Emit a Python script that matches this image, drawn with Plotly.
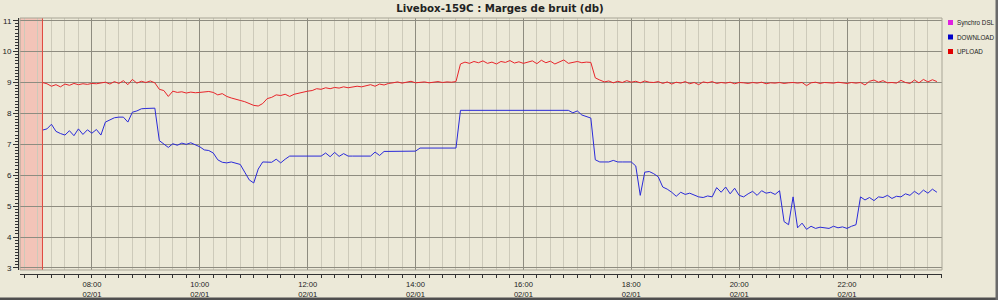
import pandas as pd
import plotly.graph_objects as go

# ---------------- data ----------------
title_text = "Livebox-159C : Marges de bruit (db)"
series_names = ["Synchro DSL", "DOWNLOAD", "UPLOAD"]
series_colors = ["#E020E0", "#0000C8", "#E00000"]

start_time = "2009-01-02 07:05"   # first sample
sample_minutes = 5
view_start = "2009-01-02 06:40"
view_end = "2009-01-02 23:45:40"

upload = [
    9.00, 8.96, 8.88, 8.93, 8.86, 8.95, 8.91, 8.97, 8.93, 8.96, 8.94, 8.97,  # 07
    8.96, 8.99, 9.01, 8.95, 9.03, 8.97, 9.06, 8.93, 9.10, 8.98, 9.04, 9.00,  # 08
    9.05, 8.99, 8.78, 8.74, 8.55, 8.72, 8.68, 8.70, 8.66, 8.69, 8.67, 8.68,  # 09
    8.70, 8.71, 8.68, 8.60, 8.64, 8.55, 8.50, 8.47, 8.42, 8.38, 8.32, 8.26,  # 10
    8.24, 8.32, 8.48, 8.52, 8.60, 8.58, 8.62, 8.55, 8.62, 8.66, 8.70, 8.72,  # 11
    8.74, 8.80, 8.78, 8.83, 8.80, 8.84, 8.82, 8.86, 8.83, 8.85, 8.88, 8.86,  # 12
    8.90, 8.93, 8.88, 8.95, 8.92, 8.97, 8.99, 9.02, 8.98, 9.00, 9.04, 8.99,  # 13
    9.00, 9.02, 8.99, 9.01, 9.03, 9.00, 9.02, 9.01, 9.03, 9.60, 9.66, 9.62,  # 14
    9.68, 9.64, 9.70, 9.62, 9.66, 9.60, 9.68, 9.65, 9.71, 9.63, 9.67, 9.62,  # 15
    9.66, 9.70, 9.61, 9.72, 9.64, 9.69, 9.60, 9.67, 9.73, 9.62, 9.66, 9.68,  # 16
    9.64, 9.66, 9.65, 9.15, 9.08, 9.02, 9.05, 8.99, 9.04, 9.00, 9.06, 9.01,  # 17
    9.04, 8.99, 9.05, 9.01, 9.00, 9.03, 8.97, 9.02, 8.95, 9.01, 8.98, 9.03,  # 18
    8.96, 9.00, 8.93, 9.02, 8.99, 9.03, 8.97, 9.00, 8.98, 9.01, 8.96, 9.00,  # 19
    8.99, 8.97, 9.00, 8.98, 9.01, 8.96, 8.99, 8.98, 9.00, 8.97, 8.99, 9.00,  # 20
    8.98, 9.00, 8.90, 8.99, 9.01, 8.97, 9.00, 8.99, 8.98, 9.01, 8.99, 8.97,  # 21
    9.00, 8.98, 9.00, 8.92, 9.04, 9.08, 9.01, 9.06, 8.99, 9.00, 8.98, 9.07,  # 22
    9.00, 8.97, 9.08, 8.99, 9.10, 9.02, 9.09, 9.03,                          # 23
]

download = [
    7.46, 7.50, 7.65, 7.42, 7.35, 7.30, 7.44, 7.28, 7.50, 7.32, 7.47, 7.36,  # 07
    7.48, 7.30, 7.72, 7.80, 7.86, 7.88, 7.88, 7.72, 8.04, 8.08, 8.15, 8.16,  # 08
    8.16, 8.17, 7.12, 7.00, 6.90, 7.02, 6.97, 7.04, 7.00, 7.05, 6.98, 6.92,  # 09
    6.82, 6.80, 6.72, 6.50, 6.42, 6.40, 6.43, 6.38, 6.35, 6.10, 5.85, 5.75,  # 10
    6.20, 6.43, 6.43, 6.42, 6.52, 6.40, 6.52, 6.62, 6.62, 6.62, 6.62, 6.62,  # 11
    6.62, 6.62, 6.62, 6.72, 6.60, 6.74, 6.61, 6.70, 6.62, 6.62, 6.62, 6.62,  # 12
    6.62, 6.62, 6.75, 6.64, 6.77, 6.77, 6.77, 6.77, 6.77, 6.77, 6.77, 6.78,  # 13
    6.88, 6.88, 6.88, 6.88, 6.88, 6.88, 6.88, 6.88, 6.88, 8.10, 8.10, 8.10,  # 14
    8.10, 8.10, 8.10, 8.10, 8.10, 8.10, 8.10, 8.10, 8.10, 8.10, 8.10, 8.10,  # 15
    8.10, 8.10, 8.10, 8.10, 8.10, 8.10, 8.10, 8.10, 8.10, 8.10, 8.02, 8.08,  # 16
    7.95, 7.90, 7.85, 6.50, 6.43, 6.43, 6.43, 6.48, 6.43, 6.43, 6.43, 6.43,  # 17
    6.30, 5.35, 6.10, 6.12, 6.05, 5.95, 5.62, 5.55, 5.45, 5.32, 5.45, 5.38,  # 18
    5.42, 5.36, 5.30, 5.28, 5.33, 5.30, 5.60, 5.45, 5.62, 5.40, 5.58, 5.35,  # 19
    5.30, 5.40, 5.48, 5.35, 5.50, 5.42, 5.45, 5.38, 5.50, 4.50, 4.40, 5.30,  # 20
    4.30, 4.45, 4.25, 4.35, 4.28, 4.32, 4.30, 4.28, 4.35, 4.30, 4.33, 4.28,  # 21
    4.35, 4.40, 5.30, 5.20, 5.28, 5.18, 5.30, 5.28, 5.35, 5.25, 5.32, 5.30,  # 22
    5.40, 5.35, 5.48, 5.38, 5.52, 5.42, 5.55, 5.45,                          # 23
]

y_range = [2.935, 11.087]

# ---------------- figure ----------------
times = pd.date_range(start_time, periods=len(upload), freq=f"{sample_minutes}min")

W, H = 998, 300
ML, MR, MT, MB = 18, 56, 18, 26
PW, PH = W - ML - MR, H - MT - MB

fig = go.Figure()
fig.add_trace(go.Scatter(x=times, y=download, mode="lines", name=series_names[1],
                         line=dict(color="#2A2AD8", width=1), showlegend=False))
fig.add_trace(go.Scatter(x=times, y=upload, mode="lines", name=series_names[2],
                         line=dict(color="#E8242A", width=1), showlegend=False))

grid_major = "#8E8C80"
grid_minor = "#CDCABA"
bg = "#ECE9D8"
tickfont = dict(family="Liberation Sans", size=8, color="#222222")
xtickfont = dict(family="Liberation Sans", size=7.6, color="#222222")

fig.update_layout(
    width=W, height=H,
    margin=dict(l=ML, r=MR, t=MT, b=MB, pad=0, autoexpand=False),
    paper_bgcolor=bg, plot_bgcolor=bg,
    title=dict(text="<b>" + title_text + "</b>", x=0.501, xanchor="center",
               y=1 - 8.5 / H, yanchor="middle", automargin=False,
               font=dict(family="DejaVu Sans", size=10.2, color="#222222")),
    xaxis=dict(
        type="date", range=[view_start, view_end],
        domain=[2 / PW, 1],
        anchor="free", position=0, automargin=False,
        showline=True, linecolor="#333333", linewidth=1,
        tick0="2009-01-02 00:00", dtick=2 * 3600 * 1000,
        tickformat="%H:%M<br>%d/%m", tickfont=xtickfont,
        ticks="outside", ticklen=3, tickcolor="#333333",
        showgrid=True, gridcolor=grid_major, gridwidth=1,
        minor=dict(dtick=15 * 60 * 1000, showgrid=True, gridcolor=grid_minor,
                   ticks="outside", ticklen=3, tickcolor="#333333"),
        zeroline=False,
    ),
    yaxis=dict(
        range=y_range,
        domain=[4 / PH, 1],
        anchor="free", position=0, automargin=False,
        showline=True, linecolor="#333333", linewidth=1,
        tick0=0, dtick=1, tickfont=tickfont,
        ticks="outside", ticklen=5, tickcolor="#333333",
        showgrid=True, gridcolor=grid_major, gridwidth=1,
        minor=dict(dtick=0.1, showgrid=False, ticks="outside", ticklen=3,
                   tickcolor="#333333"),
        zeroline=False,
    ),
)

# no-data band and its boundary
fig.add_shape(type="rect", xref="x", yref="y domain", x0=view_start, x1=start_time,
              y0=0, y1=1, fillcolor="#F3C4B8", line_width=0, layer="below")
fig.add_shape(type="line", xref="x", yref="y domain", x0=start_time, x1=start_time,
              y0=0, y1=1, line=dict(color="#E0473E", width=1))
# plot frame
fig.add_shape(type="rect", xref="x domain", yref="y domain", x0=0, x1=1, y0=0, y1=1,
              line=dict(color="#A8A596", width=1), fillcolor="rgba(0,0,0,0)")

# legend (small squares + labels)
def px_to_paper_x(px):
    return (px - ML) / PW

def px_to_paper_y(py):
    return (MT + PH - py) / PH

leg_y = [22.5, 37, 51.5]
for name, col, yy in zip(series_names, series_colors, leg_y):
    fig.add_shape(type="rect", xref="paper", yref="paper",
                  x0=px_to_paper_x(948), x1=px_to_paper_x(953),
                  y0=px_to_paper_y(yy + 2.5), y1=px_to_paper_y(yy - 2.5),
                  fillcolor=col, line_width=0)
    fig.add_annotation(text=name, xref="paper", yref="paper",
                       x=px_to_paper_x(955), y=px_to_paper_y(yy),
                       xanchor="left", yanchor="middle", showarrow=False,
                       font=dict(family="Liberation Sans", size=6.3, color="#222222"))

# window frame (dark border bottom/right)
fig.add_shape(type="rect", xref="paper", yref="paper", layer="below",
              x0=px_to_paper_x(0), x1=px_to_paper_x(W),
              y0=px_to_paper_y(H), y1=px_to_paper_y(297.5),
              fillcolor="#4E4E4E", line_width=0)
fig.add_shape(type="rect", xref="paper", yref="paper",
              x0=px_to_paper_x(995.5), x1=px_to_paper_x(W),
              y0=px_to_paper_y(H), y1=px_to_paper_y(0),
              fillcolor="#6A6A6A", line_width=0)

fig.write_html("out.html")
